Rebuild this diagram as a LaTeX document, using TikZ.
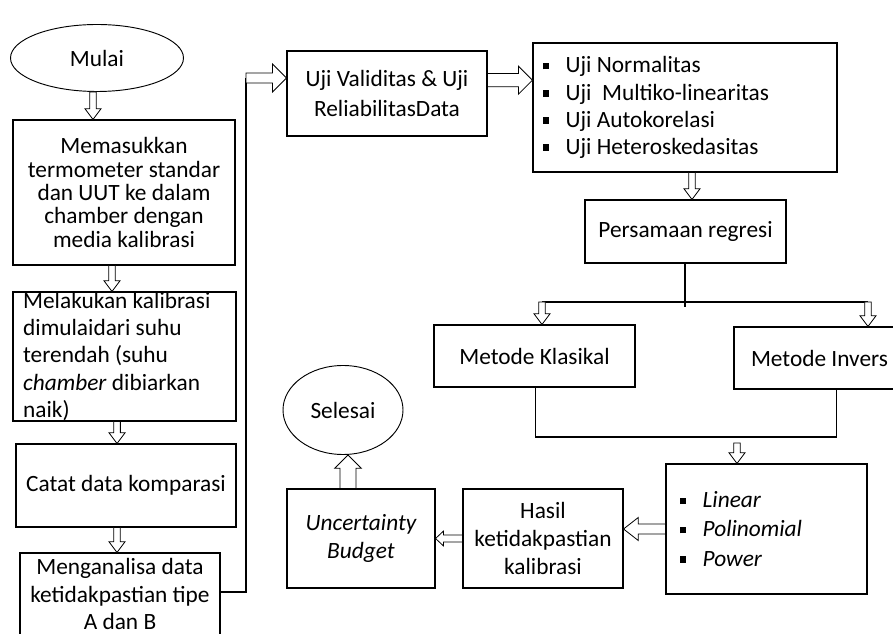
\documentclass[tikz,border=0pt]{standalone}
\usepackage{fontspec}
\setmainfont{Carlito}
\usepackage{tikz}
\usetikzlibrary{calc,shapes.geometric,positioning}

% small square bullet for the lists
\newcommand{\sqbullet}{\makebox[17pt][l]{\rule[0.15em]{0.27em}{0.27em}}}

\tikzset{
    % hollow block arrow: half shaft, half head, head length (all in pt)
    hollow/.style n args={3}{fill=white, line width=0.6pt,
        to path={let \p1=(\tikztostart), \p2=(\tikztotarget),
            \n1={veclen(\x2-\x1,\y2-\y1)},
            \n2={(\x2-\x1)/\n1}, \n3={(\y2-\y1)/\n1} in
            ({\x1-#1*\n3},{\y1+#1*\n2})
            -- ({\x2-#3*\n2-#1*\n3},{\y2-#3*\n3+#1*\n2})
            -- ({\x2-#3*\n2-#2*\n3},{\y2-#3*\n3+#2*\n2})
            -- (\p2)
            -- ({\x2-#3*\n2+#2*\n3},{\y2-#3*\n3-#2*\n2})
            -- ({\x2-#3*\n2+#1*\n3},{\y2-#3*\n3-#1*\n2})
            -- ({\x1+#1*\n3},{\y1-#1*\n2}) -- cycle}},
    smallarr/.style={hollow={2.5}{6}{8}},
}

\begin{document}
\begin{tikzpicture}[x=0.75pt,y=-0.75pt,
    font=\fontsize{17.5}{20.6}\selectfont,
    box/.style={draw, rectangle, line width=0.8pt, inner sep=0pt, align=flush center},
    oval/.style={draw, ellipse, line width=0.7pt, inner sep=0pt},
    link/.style={line width=0.8pt}]
    \useasboundingbox (0,0) rectangle (893,634);
    \clip (0,0) rectangle (893,634);

    % Left column
    \node[oval, minimum width=129.75pt, minimum height=50.25pt] (mulai) at (97,58) {Mulai};
    \node[box, minimum width=166.5pt, minimum height=108.75pt,
        font=\fontsize{17.5}{17.6}\selectfont] (masuk) at (124,192.5)
        {Memasukkan\\ termometer standar\\ dan UUT ke dalam\\ chamber dengan\\ media kalibrasi};
    \node[box, minimum width=167.25pt, minimum height=96.75pt, inner ysep=-4pt,
        text width=152pt, align=flush left] (kalib) at (124.5,356.5)
        {Melakukan kalibrasi\\ dimulaidari suhu\\ terendah (suhu\\ \textit{chamber} dibiarkan\\ naik)};
    \node[box, minimum width=165pt, minimum height=62.25pt] (catat) at (126,485.5) {Catat data komparasi};
    \node[box, minimum width=150pt, minimum height=61.5pt,
        font=\fontsize{17.5}{20.3}\selectfont] (analisa) at (120,594)
        {Menganalisa data\\ ketidakpastian tipe\\ A dan B};

    % Top row
    \node[box, minimum width=150pt, minimum height=63.75pt,
        font=\fontsize{17.5}{22.5}\selectfont] (validitas) at (387,93.5)
        {Uji Validitas \& Uji\\ ReliabilitasData};
    \node[box, minimum width=228pt, minimum height=96.75pt, text width=213pt, align=flush left,
        font=\fontsize{17.5}{20.3}\selectfont] (uji) at (685,107.5)
        {\sqbullet Uji Normalitas\\ \sqbullet Uji\ \ Multiko-linearitas\\
         \sqbullet Uji Autokorelasi\\ \sqbullet Uji Heteroskedasitas};
    \node[box, minimum width=150.75pt, minimum height=47.25pt] (regresi) at (685.5,231.5) {Persamaan regresi};

    % The two methods
    \node[box, minimum width=150.75pt, minimum height=46.5pt] (klasikal) at (534.5,356) {Metode Klasikal};
    \node[box, minimum width=128.25pt, minimum height=46.5pt] (invers) at (819.5,358) {Metode Invers};

    % Bottom row
    \node[box, minimum width=150.75pt, minimum height=97.5pt, text width=129.75pt, align=flush left,
        font=\fontsize{17.5}{22}\selectfont] (model) at (766.5,529)
        {\sqbullet\textit{Linear}\\ \sqbullet\textit{Polinomial}\\ \sqbullet\textit{Power}};
    \node[box, minimum width=120pt, minimum height=74.25pt,
        font=\fontsize{17.5}{21}\selectfont] (hasil) at (543,538.5)
        {Hasil\\ ketidakpastian\\ kalibrasi};
    \node[box, minimum width=111pt, minimum height=74.25pt,
        font=\fontsize{17.5}{21.7}\itshape] (budget) at (361,538.5)
        {Uncertainty\\ Budget};
    \node[oval, minimum width=90pt, minimum height=66.75pt] (selesai) at (343,410) {Selesai};

    % Turning points of the connectors
    \coordinate (turn) at (246,78);
    \coordinate (split) at (685,307);
    \coordinate (bl) at (542,302);
    \coordinate (br) at (868,302);
    \coordinate (join) at (737,437);
    \coordinate (join2) at (737,443);

    % Arrows down the left column
    \draw[smallarr] ([xshift=-3pt]mulai.south) to ([xshift=-3pt]mulai.south |- masuk.north);
    \draw[smallarr] ([xshift=-9pt]masuk.south) to ([xshift=-9pt]masuk.south |- kalib.north);
    \draw[smallarr] ([xshift=-5.6pt]kalib.south) to ([xshift=-5.6pt]kalib.south |- catat.north);
    \draw[smallarr] ([xshift=-6.75pt]catat.south) to ([xshift=-6.75pt]catat.south |- analisa.north);

    % From the analysis up to the tests
    \draw[link] ([yshift=1.5pt]analisa.east) -| (turn);
    \draw[hollow={3.75}{10.5}{10.5}] (turn) to (turn -| validitas.west);
    \draw[hollow={5}{10.5}{10.5}] ([yshift=10pt]validitas.east) to ([yshift=10pt]validitas.east -| uji.west);
    \draw[smallarr] ([xshift=5.25pt]uji.south) to ([xshift=5.25pt]uji.south |- regresi.north);

    % Split to the two methods
    \draw[link] (regresi.south -| split) -- (split);
    \draw[link] (bl) -- (br);
    \draw[smallarr] (bl) to (bl |- klasikal.north);
    \draw[smallarr] (br) to (br |- invers.north);

    % Join the two methods
    \draw[link] ([xshift=1pt]klasikal.south) |- (join) -| ([xshift=13pt]invers.south);
    \draw[smallarr] (join2) to (join2 |- model.north);

    % Back along the bottom row
    \draw[hollow={3.75}{8.6}{11}] (model.west) to (model.west -| hasil.east);
    \draw[hollow={2.6}{5.6}{6}] (hasil.west) to (budget.east);
    \draw[hollow={6}{10}{10}] ([xshift=-9.75pt]budget.north) to ([xshift=-9.75pt]budget.north |- selesai.south);
\end{tikzpicture}
\end{document}
